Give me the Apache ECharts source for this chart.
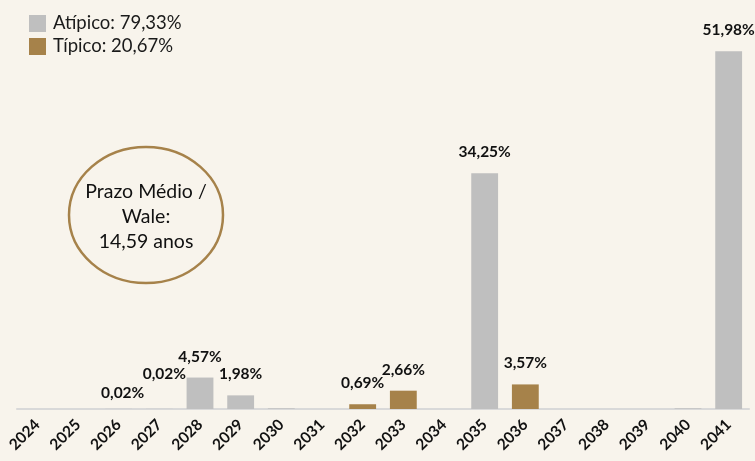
<!DOCTYPE html>
<html>
<head>
<meta charset="utf-8">
<script src="https://cdn.jsdelivr.net/npm/echarts@6/dist/echarts.min.js"></script>
<style>
  html, body { margin: 0; padding: 0; background: #f8f4ec; }
  #chart { width: 755px; height: 461px; }
</style>
</head>
<body>
<div id="chart"></div>
<script>
// anos de vencimento
var years = ['2024', '2025', '2026', '2027', '2028', '2029', '2030', '2031', '2032',
  '2033', '2034', '2035', '2036', '2037', '2038', '2039', '2040', '2041'];
// % da receita por ano
var atipico = [null, null, 0.02, 0.02, 4.57, 1.98, 0.1, null, null,
  null, null, 34.25, null, null, null, null, 0.1, 51.98];
var tipico = [null, null, null, null, null, null, null, null, 0.69,
  2.66, null, null, 3.57, null, null, null, null, null];
// totais da legenda
var legendTotals = { 'Atípico': '79,33%', 'Típico': '20,67%' };
// anos com barra muito pequena e sem rótulo
var noLabelYears = ['2030', '2040'];

var fontFam = 'Lato, "Open Sans", sans-serif';

function fmt(v) {
  return v.toFixed(2).replace('.', ',') + '%';
}

// rótulos deslocados à mão no original
var labelShift = { '2026': [4, 5], '2027': [5, -14] };

function buildData(values) {
  return values.map(function (v, i) {
    if (v == null) return null;
    var item = { value: v };
    if (noLabelYears.indexOf(years[i]) >= 0) {
      item.label = { show: false };
    } else if (labelShift[years[i]]) {
      item.label = { offset: labelShift[years[i]] };
    }
    return item;
  });
}

var barLabel = {
  show: true,
  position: 'top',
  distance: 13,
  fontFamily: fontFam,
  fontWeight: 'bold',
  fontSize: 15.5,
  color: '#111',
  formatter: function (p) { return fmt(p.value); }
};

var chart = echarts.init(document.getElementById('chart'));
chart.setOption({
  backgroundColor: '#f8f4ec',
  animation: false,
  grid: { left: 17, right: 6, top: 51, bottom: 52 },
  legend: {
    orient: 'vertical',
    left: 24,
    top: 9,
    itemWidth: 17,
    itemHeight: 17,
    itemGap: 4,
    icon: 'rect',
    data: ['Atípico', 'Típico'],
    formatter: function (name) { return name + ': ' + legendTotals[name]; },
    textStyle: { fontFamily: fontFam, fontSize: 18.5, color: '#1a1a1a', padding: [0, 0, 0, 2] }
  },
  xAxis: {
    type: 'category',
    data: years,
    axisLine: { lineStyle: { color: '#d9d9d9', width: 2 } },
    axisTick: { show: false },
    axisLabel: {
      interval: 0,
      rotate: 45,
      margin: 13,
      fontFamily: fontFam,
      fontWeight: 'bold',
      fontSize: 15.5,
      color: '#111'
    }
  },
  yAxis: {
    type: 'value',
    min: 0,
    max: 52,
    show: false,
    splitLine: { show: false }
  },
  series: [
    {
      name: 'Atípico',
      type: 'bar',
      stack: 'total',
      barWidth: '66%',
      itemStyle: { color: '#bfbfbf' },
      label: barLabel,
      data: buildData(atipico)
    },
    {
      name: 'Típico',
      type: 'bar',
      stack: 'total',
      barWidth: '66%',
      itemStyle: { color: '#a6824a' },
      label: barLabel,
      data: buildData(tipico)
    }
  ],
  graphic: [
    {
      type: 'ellipse',
      shape: { cx: 146, cy: 215, rx: 77, ry: 68 },
      style: { fill: 'transparent', stroke: '#a6824a', lineWidth: 2.5 }
    },
    {
      type: 'text',
      x: 146,
      y: 217,
      style: {
        text: 'Prazo Médio /\nWale:\n14,59 anos',
        align: 'center',
        verticalAlign: 'middle',
        lineHeight: 25,
        fontFamily: fontFam,
        fontSize: 19.5,
        fill: '#111'
      }
    }
  ]
});
</script>
</body>
</html>
